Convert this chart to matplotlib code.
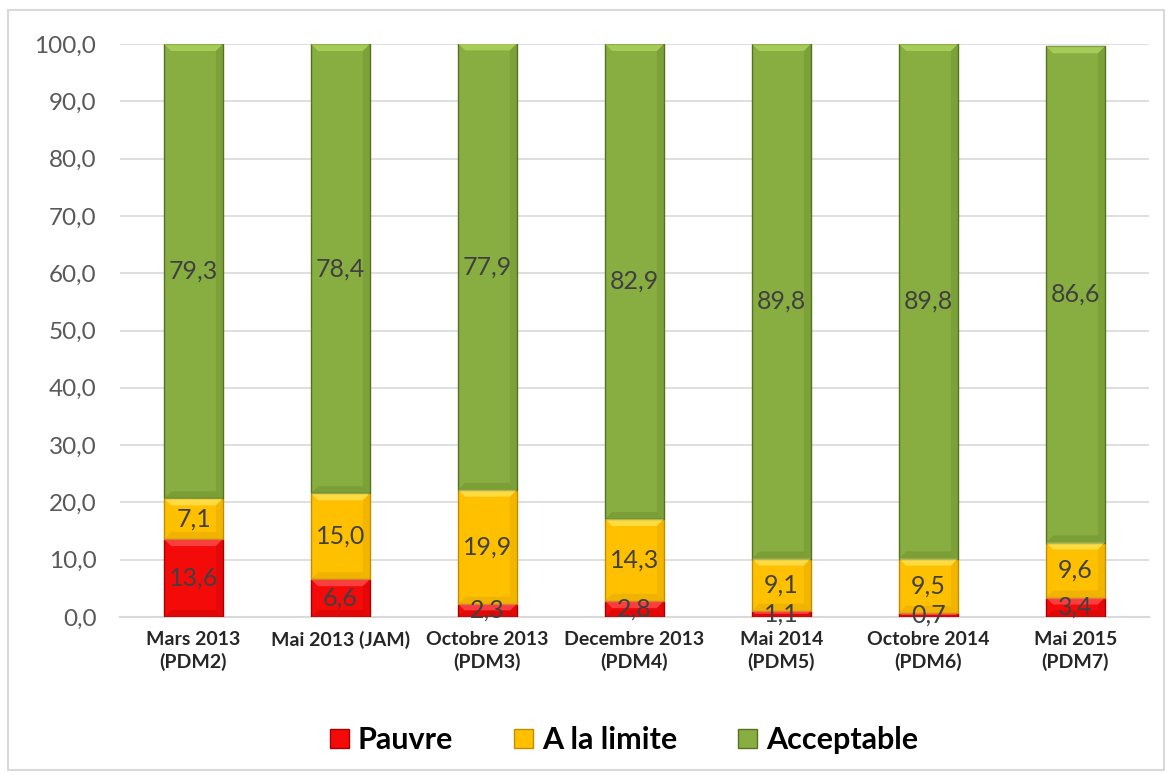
import numpy as np
import matplotlib.pyplot as plt
from matplotlib.patches import Rectangle, Polygon

# --- data ---
categories = ["Mars 2013\n(PDM2)", "Mai 2013 (JAM)", "Octobre 2013\n(PDM3)",
              "Decembre 2013\n(PDM4)", "Mai 2014\n(PDM5)", "Octobre 2014\n(PDM6)",
              "Mai 2015\n(PDM7)"]
pauvre = [13.6, 6.6, 2.3, 2.8, 1.1, 0.7, 3.4]
limite = [7.1, 15.0, 19.9, 14.3, 9.1, 9.5, 9.6]
acceptable = [79.3, 78.4, 77.9, 82.9, 89.8, 89.8, 86.6]
series_names = ["Pauvre", "A la limite", "Acceptable"]
yticks = np.arange(0, 101, 10)

colors = ["#f50a0a", "#ffc000", "#88ad40"]
edges = ["#a80000", "#c08f00", "#55731f"]
lights = ["#ff6a6a", "#fff27a", "#c0e56e"]

plt.rcParams['font.family'] = ['Lato', 'DejaVu Sans']

fig = plt.figure(figsize=(11.71, 7.75), dpi=100)
fig.patch.set_facecolor('white')
# light frame around the whole chart
fig.patches.append(Rectangle((8 / 1171, 5 / 775), 1156 / 1171, 760 / 775,
                             transform=fig.transFigure, fill=False,
                             edgecolor='#d9d9d9', linewidth=1.5))

ax = fig.add_axes([120 / 1171, 1 - 617 / 775, 1029 / 1171, 573 / 775])
x = np.arange(len(categories))
width = 0.4
ax.set_xlim(-0.5, len(categories) - 0.5)
ax.set_ylim(0, 100)

# bevel depth: ~7 px expressed in data units
dx = 7 * (len(categories)) / 1029
dy = 7 * 100 / 573

bottom = np.zeros(len(categories))
for vals, name, c, ec, lc in zip([pauvre, limite, acceptable], series_names, colors, edges, lights):
    vals = np.array(vals)
    ax.bar(x, vals, width, bottom=bottom, color=c, edgecolor=ec, linewidth=1.0,
           label=name, zorder=3)
    for xi, b, v in zip(x, bottom, vals):
        x0, x1 = xi - width / 2, xi + width / 2
        d = min(dy, v / 2)
        ddx = dx * d / dy
        # light top facet and darker bottom/side facets (Excel-like bevel)
        ax.add_patch(Polygon([(x0, b + v), (x1, b + v), (x1 - ddx, b + v - d), (x0 + ddx, b + v - d)],
                             closed=True, facecolor=lc, edgecolor='none', alpha=0.55, zorder=3.5))
        ax.add_patch(Polygon([(x0, b), (x1, b), (x1 - ddx, b + d), (x0 + ddx, b + d)],
                             closed=True, facecolor=ec, edgecolor='none', alpha=0.25, zorder=3.5))
        ax.add_patch(Polygon([(x1, b), (x1, b + v), (x1 - ddx, b + v - d), (x1 - ddx, b + d)],
                             closed=True, facecolor=ec, edgecolor='none', alpha=0.2, zorder=3.5))
        ax.text(xi, b + v / 2, f"{v:.1f}".replace('.', ','), ha='center', va='center',
                fontsize=18, color='#404040', zorder=4)
    bottom += vals

ax.set_yticks(yticks)
ax.set_yticklabels([f"{t:.1f}".replace('.', ',') for t in yticks], fontsize=17.5, color='#595959')
ax.set_xticks(x)
ax.set_xticklabels(categories, fontsize=14, fontweight='bold', color='#262626', linespacing=1.3)
ax.tick_params(axis='both', length=0)
ax.tick_params(axis='y', pad=17)
ax.tick_params(axis='x', pad=10)
ax.grid(axis='y', color='#d9d9d9', linewidth=1.2, zorder=0)
for s in ['top', 'right', 'left']:
    ax.spines[s].set_visible(False)
ax.spines['bottom'].set_color('#d9d9d9')
ax.spines['bottom'].set_linewidth(1.5)

leg = ax.legend(loc='center', bbox_to_anchor=(0.49, -0.215), ncol=3, frameon=False,
                prop={'size': 22, 'weight': 'bold'}, handlelength=0.6, handleheight=0.6,
                handletextpad=0.3, columnspacing=2.0)
for t in leg.get_texts():
    t.set_color('black')

fig.savefig('out.png', dpi=100, facecolor='white')
